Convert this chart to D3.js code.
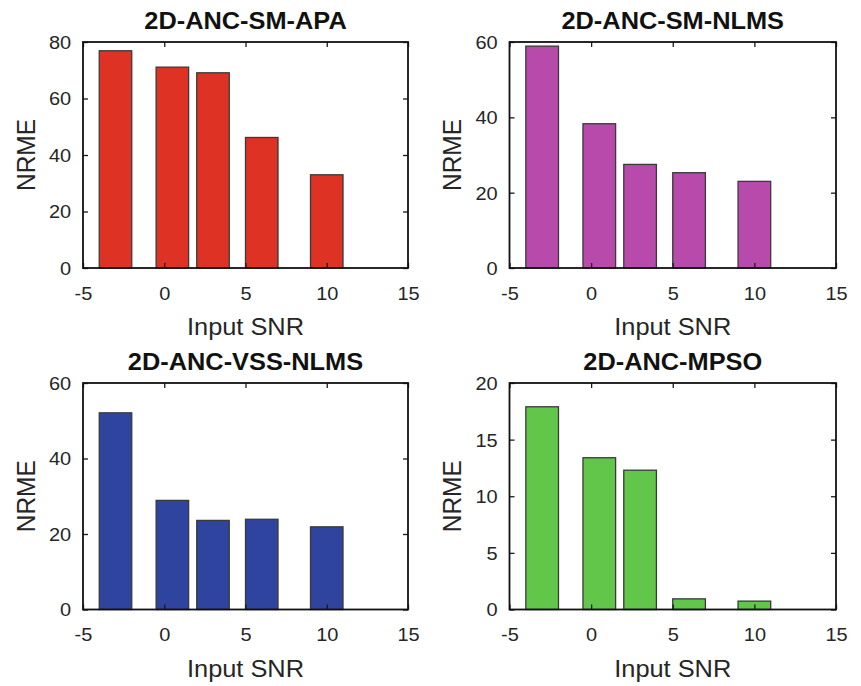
<!DOCTYPE html>
<html>
<head>
<meta charset="utf-8">
<script src="https://cdn.jsdelivr.net/npm/d3@7"></script>
<style>
  html, body { margin: 0; padding: 0; background: #fff; }
  svg { display: block; }
  text { font-family: "Liberation Sans", Arial, sans-serif; }
</style>
</head>
<body>
<svg id="chart" width="861" height="686"></svg>
<script>
// ---- data ----
const snr = [-3, 0.5, 3, 6, 10];
const titles = ["2D-ANC-SM-APA", "2D-ANC-SM-NLMS", "2D-ANC-VSS-NLMS", "2D-ANC-MPSO"];
const apaValues = [76.9, 71.1, 69.1, 46.2, 33.0];
const smNlmsValues = [58.9, 38.3, 27.5, 25.3, 23.0];
const vssNlmsValues = [52.1, 28.9, 23.6, 23.9, 21.9];
const mpsoValues = [17.9, 13.4, 12.3, 0.94, 0.74];
const xTicks = [-5, 0, 5, 10, 15];
const yTicksAPA = [0, 20, 40, 60, 80];
const yTicksNLMS = [0, 20, 40, 60];
const yTicksVSS = [0, 20, 40, 60];
const yTicksMPSO = [0, 5, 10, 15, 20];
const xLabel = "Input SNR";
const yLabel = "NRME";

const panels = [
  { title: titles[0], values: apaValues, yTicks: yTicksAPA, color: "#dd3224", box: [83, 42, 408, 268] },
  { title: titles[1], values: smNlmsValues, yTicks: yTicksNLMS, color: "#b84aab", box: [509.5, 42, 836, 268] },
  { title: titles[2], values: vssNlmsValues, yTicks: yTicksVSS, color: "#2e449f", box: [83, 383, 408, 609.5] },
  { title: titles[3], values: mpsoValues, yTicks: yTicksMPSO, color: "#62c64a", box: [509.5, 383, 836, 609.5] }
];

const S = 1.08; // horizontal text stretch of the reference
const barWidthUnits = 2;
const fmt = d => String(d); // plain hyphen-minus like the reference
const svg = d3.select("#chart");

panels.forEach(p => {
  const [x0, y0, x1, y1] = p.box;
  const x = d3.scaleLinear().domain([-5, 15]).range([x0, x1]);
  const y = d3.scaleLinear().domain([0, d3.max(p.yTicks)]).range([y1, y0]);
  const g = svg.append("g");

  // bars
  g.selectAll("rect.bar").data(snr.map((s, i) => ({ s, v: p.values[i] })))
    .enter().append("rect")
    .attr("class", "bar")
    .attr("x", d => x(d.s - barWidthUnits / 2))
    .attr("width", d => x(d.s + barWidthUnits / 2) - x(d.s - barWidthUnits / 2))
    .attr("y", d => y(d.v))
    .attr("height", d => y(0) - y(d.v))
    .attr("fill", p.color)
    .attr("stroke", "#3a3a3a")
    .attr("stroke-width", 1.3);

  const tk = 5;
  // bottom axis
  const bottom = g.append("g").attr("transform", `translate(0,${y1})`)
    .call(d3.axisBottom(x).tickValues(xTicks).tickSize(-tk).tickPadding(0).tickFormat(fmt));
  bottom.selectAll("text").attr("y", 32).attr("dy", 0)
    .attr("transform", `scale(${S},1)`);
  // top axis
  g.append("g").attr("transform", `translate(0,${y0})`)
    .call(d3.axisTop(x).tickValues(xTicks).tickSize(-tk).tickFormat(""));
  // left axis
  const left = g.append("g").attr("transform", `translate(${x0},0)`)
    .call(d3.axisLeft(y).tickValues(p.yTicks).tickSize(-tk).tickFormat(fmt));
  left.selectAll("text").attr("x", -11).attr("dy", "0.35em")
    .attr("transform", `scale(${S},1)`);
  // right axis
  g.append("g").attr("transform", `translate(${x1},0)`)
    .call(d3.axisRight(y).tickValues(p.yTicks).tickSize(-tk).tickFormat(""));

  g.selectAll(".domain").remove();
  g.selectAll(".tick line").attr("stroke", "#1a1a1a").attr("stroke-width", 1.3);
  g.selectAll(".tick text").attr("fill", "#262626").style("font-size", "18.5px")
    .style("font-family", "'Liberation Sans', Arial, sans-serif");

  // box frame
  g.append("rect").attr("x", x0).attr("y", y0).attr("width", x1 - x0).attr("height", y1 - y0)
    .attr("fill", "none").attr("stroke", "#111").attr("stroke-width", 1.8);

  const cx = (x0 + x1) / 2;
  // title
  g.append("text").text(p.title)
    .attr("transform", `translate(${cx},${y0 - 13}) scale(${S},1)`)
    .attr("text-anchor", "middle")
    .style("font-size", "23.5px").style("font-weight", "bold").attr("fill", "#111");
  // x label
  g.append("text").text(xLabel)
    .attr("transform", `translate(${cx},${y1 + 67}) scale(${S},1)`)
    .attr("text-anchor", "middle")
    .style("font-size", "23.5px").attr("fill", "#262626");
  // y label
  g.append("text").text(yLabel)
    .attr("transform", `translate(${x0 - 48.5},${(y0 + y1) / 2}) scale(${S},1) rotate(-90)`)
    .attr("text-anchor", "middle")
    .style("font-size", "24.5px").attr("fill", "#262626");
});
</script>
</body>
</html>
